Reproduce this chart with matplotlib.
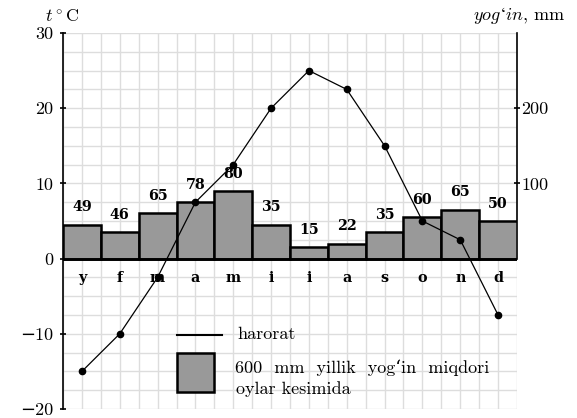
import matplotlib.pyplot as plt
import numpy as np

plt.rcParams['mathtext.fontset'] = 'cm'
plt.rcParams['font.family'] = ['cmr10', 'DejaVu Serif']
plt.rcParams['axes.unicode_minus'] = False

# data
months = ['y', 'f', 'm', 'a', 'm', 'i', 'i', 'a', 's', 'o', 'n', 'd']
temp = [-15, -10, -2.5, 7.5, 12.5, 20, 25, 22.5, 15, 5, 2.5, -7.5]
rain_bar = [45, 35, 60, 75, 90, 45, 15, 20, 35, 55, 65, 50]   # bar heights, mm
rain_labels = [49, 46, 65, 78, 80, 35, 15, 22, 35, 60, 65, 50]
left_ticks = [30, 20, 10, 0, -10, -20]
right_ticks = [100, 200]

fig = plt.figure(figsize=(5.77, 4.18), dpi=100)
ax = fig.add_axes([63/577, 1-409/418, 454/577, 376/418])

x = np.arange(len(months)) + 0.5

# grid
for gx in np.arange(0, 12.01, 0.5):
    ax.axvline(gx, color='#dddddd', lw=1, zorder=0)
for gy in np.arange(-20, 30.01, 2.5):
    ax.axhline(gy, color='#dddddd', lw=1, zorder=0)

# bars (mm drawn on the temperature scale, 10 mm = 1 degree)
ax.bar(x, np.array(rain_bar) / 10, width=1, color='#999999',
       edgecolor='black', linewidth=1.8, zorder=2)
ax.axhline(0, color='black', lw=2, zorder=3)
bold = dict(family='DejaVu Serif', weight='bold', fontsize=10.3)
for xi, h, lab in zip(x, rain_bar, rain_labels):
    ax.text(xi, h/10 + 2.3, str(lab), ha='center', va='center', zorder=4, **bold)
for xi, m in zip(x, months):
    ax.text(xi, -2.6, m, ha='center', va='center', zorder=4, **bold)

# temperature line
ax.plot(x, temp, color='black', lw=0.9, marker='o', markersize=4.5, zorder=5)

ax.set_xlim(0, 12)
ax.set_ylim(-20, 30)
for s in ['top', 'bottom', 'right']:
    ax.spines[s].set_visible(False)
ax.spines['left'].set_linewidth(1.2)
ax.set_xticks([])
ax.set_yticks(left_ticks)
ax.set_yticklabels([('\u2212' + '%d' % -t) if t < 0 else ('%d' % t) for t in left_ticks],
                   fontsize=13)
ax.tick_params(axis='y', direction='inout', length=4, width=1.2, pad=5)

sec = ax.secondary_yaxis('right', functions=(lambda v: v*10, lambda v: v/10))
sec.spines['right'].set_bounds(0, 300)
sec.spines['right'].set_linewidth(1.2)
sec.set_yticks(right_ticks)
sec.set_yticklabels(['%d' % t for t in right_ticks], fontsize=13)
sec.tick_params(axis='y', direction='inout', length=4, width=1.2, pad=1)

# axis titles
fig.text(62/577, 1-17/418, r'$t^\circ\mathrm{C}$', ha='center', va='center', fontsize=13)
fig.text(565/577, 1-15/418, r'$yog‘in,\,\mathrm{mm}$', ha='right', va='center', fontsize=13)

# legend drawn in data coordinates
ax.plot([3.02, 4.2], [-10.1, -10.1], color='black', lw=1.5, zorder=5)
ax.text(4.6, -10.1, 'harorat', va='center', fontsize=13, zorder=5)
ax.add_patch(plt.Rectangle((3.02, -17.7), 0.98, 5.1, facecolor='#999999',
                           edgecolor='black', lw=1.8, zorder=5))
ax.text(4.55, -14.5, '600  mm  yillik  yog‘in  miqdori', va='center', fontsize=13, zorder=5)
ax.text(4.58, -17.3, 'oylar kesimida', va='center', fontsize=13, zorder=5)

fig.savefig('out.png', dpi=100)
